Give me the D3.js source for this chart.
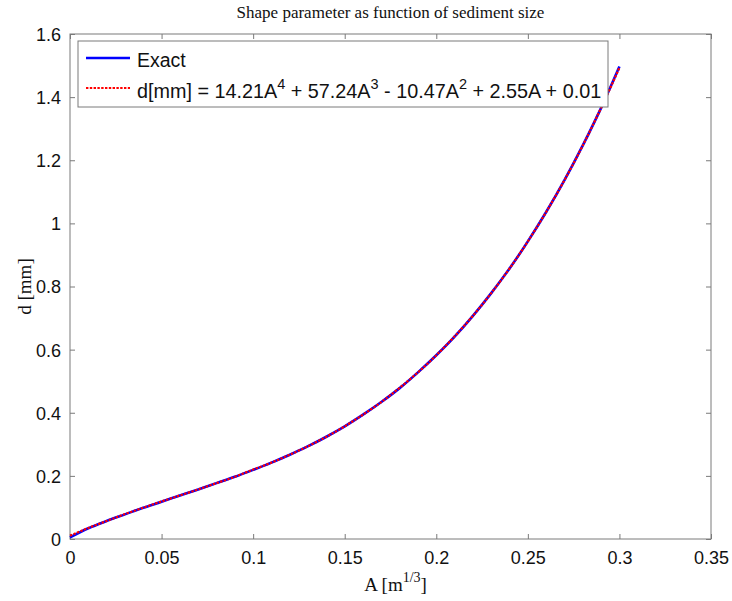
<!DOCTYPE html>
<html>
<head>
<meta charset="utf-8">
<script src="https://cdn.jsdelivr.net/npm/d3@7"></script>
<style>
  body { margin: 0; background: #fff; }
  svg { display: block; }
</style>
</head>
<body>
<div id="chart"></div>
<script>
// values
const aValues = [0, 0.01, 0.02, 0.03, 0.04, 0.05, 0.06, 0.07, 0.08, 0.09, 0.10,
    0.11, 0.12, 0.13, 0.14, 0.15, 0.16, 0.17, 0.18, 0.19, 0.20,
    0.21, 0.22, 0.23, 0.24, 0.25, 0.26, 0.27, 0.28, 0.29, 0.30];
const exactValues = [0.005, 0.034, 0.057, 0.078, 0.099, 0.118, 0.138, 0.157, 0.177, 0.197, 0.219,
    0.242, 0.267, 0.294, 0.324, 0.357, 0.394, 0.434, 0.478, 0.528, 0.582,
    0.641, 0.707, 0.779, 0.857, 0.943, 1.036, 1.137, 1.247, 1.366, 1.497];
const fitValues = [0.010, 0.035, 0.057, 0.079, 0.099, 0.119, 0.138, 0.157, 0.177, 0.197, 0.220,
    0.242, 0.267, 0.294, 0.324, 0.357, 0.394, 0.434, 0.479, 0.528, 0.582,
    0.642, 0.707, 0.779, 0.857, 0.943, 1.036, 1.137, 1.247, 1.366, 1.493];
const xTicks = [0, 0.05, 0.1, 0.15, 0.2, 0.25, 0.3, 0.35];
const yTicks = [0, 0.2, 0.4, 0.6, 0.8, 1, 1.2, 1.4, 1.6];
const chartTitle = "Shape parameter as function of sediment size";

const W = 732, H = 601;
const margin = { top: 34, right: 21, bottom: 62, left: 70 };
const width = W - margin.left - margin.right;
const height = H - margin.top - margin.bottom;
const AXIS_COLOR = "#7a7a7a";
const TICK_FONT = "'Liberation Sans', Arial, sans-serif";
const SERIF = "'Liberation Serif', 'Times New Roman', serif";

const svg = d3.select("#chart").append("svg")
    .attr("width", W)
    .attr("height", H);

const g = svg.append("g")
    .attr("transform", `translate(${margin.left},${margin.top})`);

const x = d3.scaleLinear().domain([0, 0.35]).range([0, width]);
const y = d3.scaleLinear().domain([0, 1.6]).range([height, 0]);

g.append("rect")
    .attr("width", width)
    .attr("height", height)
    .attr("fill", "#fff");

// ticks inside on all four sides, MATLAB style
function styleAxis(sel) {
    sel.selectAll(".domain").remove();
    sel.selectAll(".tick line").attr("stroke", AXIS_COLOR);
    sel.selectAll(".tick text")
        .style("font-family", TICK_FONT)
        .style("font-size", "18px")
        .attr("fill", "#111");
}

g.append("g")
    .attr("transform", `translate(0,${height})`)
    .call(d3.axisBottom(x).tickValues(xTicks).tickSizeInner(-5).tickSizeOuter(0).tickPadding(12)
        .tickFormat(d => d3.format("~g")(d)))
    .call(styleAxis);

g.append("g")
    .call(d3.axisTop(x).tickValues(xTicks).tickSizeInner(-5).tickSizeOuter(0).tickFormat(""))
    .call(styleAxis);

g.append("g")
    .call(d3.axisLeft(y).tickValues(yTicks).tickSizeInner(-5).tickSizeOuter(0).tickPadding(9)
        .tickFormat(d => d3.format("~g")(d)))
    .call(styleAxis)
    .call(sel => sel.selectAll(".tick text").attr("dy", "0.36em"));

g.append("g")
    .attr("transform", `translate(${width},0)`)
    .call(d3.axisRight(y).tickValues(yTicks).tickSizeInner(-5).tickSizeOuter(0).tickFormat(""))
    .call(styleAxis);

g.append("rect")
    .attr("width", width)
    .attr("height", height)
    .attr("fill", "none")
    .attr("stroke", AXIS_COLOR)
    .attr("stroke-width", 1);

const line = d3.line()
    .x(d => x(d[0]))
    .y(d => y(d[1]))
    .curve(d3.curveMonotoneX);

g.append("path")
    .datum(d3.zip(aValues, exactValues))
    .attr("d", line)
    .attr("fill", "none")
    .attr("stroke", "#0000ff")
    .attr("stroke-width", 2.6);

g.append("path")
    .datum(d3.zip(aValues, fitValues))
    .attr("d", line)
    .attr("fill", "none")
    .attr("stroke", "#ff0000")
    .attr("stroke-width", 2.2)
    .attr("stroke-dasharray", "2.4,1.4");

// legend
const legend = svg.append("g").attr("transform", "translate(78,41)");
legend.append("rect")
    .attr("width", 530)
    .attr("height", 66)
    .attr("fill", "#fff")
    .attr("stroke", AXIS_COLOR)
    .attr("stroke-width", 1);

legend.append("line")
    .attr("x1", 8).attr("x2", 52).attr("y1", 17).attr("y2", 17)
    .attr("stroke", "#0000ff").attr("stroke-width", 2.6);
legend.append("line")
    .attr("x1", 8).attr("x2", 52).attr("y1", 47).attr("y2", 47)
    .attr("stroke", "#ff0000").attr("stroke-width", 2.2)
    .attr("stroke-dasharray", "2.4,1.4");

legend.append("text")
    .attr("x", 59).attr("y", 26)
    .style("font-family", TICK_FONT)
    .style("font-size", "19.5px")
    .attr("fill", "#111")
    .text("Exact");

const eq = legend.append("text")
    .attr("x", 59).attr("y", 57)
    .style("font-family", TICK_FONT)
    .style("font-size", "19.8px")
    .attr("fill", "#111");
const eqParts = [
    ["d[mm] = 14.21A", false], ["4", true], [" + 57.24A", false], ["3", true],
    [" - 10.47A", false], ["2", true], [" + 2.55A + 0.01", false]
];
eqParts.forEach(([t, sup], i) => {
    const ts = eq.append("tspan").text(t);
    if (sup) ts.attr("dy", "-9px").style("font-size", "14.5px");
    else ts.attr("dy", i === 0 ? 0 : "9px");
});

// title and axis labels
svg.append("text")
    .attr("x", margin.left + width / 2)
    .attr("y", 18)
    .attr("text-anchor", "middle")
    .style("font-family", SERIF)
    .style("font-size", "17px")
    .attr("fill", "#111")
    .text(chartTitle);

const xLabel = svg.append("text")
    .attr("x", margin.left + width / 2 + 5)
    .attr("y", 591)
    .attr("text-anchor", "middle")
    .style("font-family", SERIF)
    .style("font-size", "19px")
    .attr("fill", "#111");
xLabel.append("tspan").text("A [m");
xLabel.append("tspan").text("1/3").attr("dy", "-9px").style("font-size", "14px");
xLabel.append("tspan").text("]").attr("dy", "9px");

svg.append("text")
    .attr("transform", `translate(31,${margin.top + height / 2}) rotate(-90)`)
    .attr("text-anchor", "middle")
    .style("font-family", SERIF)
    .style("font-size", "19px")
    .attr("fill", "#111")
    .text("d [mm]");
</script>
</body>
</html>
